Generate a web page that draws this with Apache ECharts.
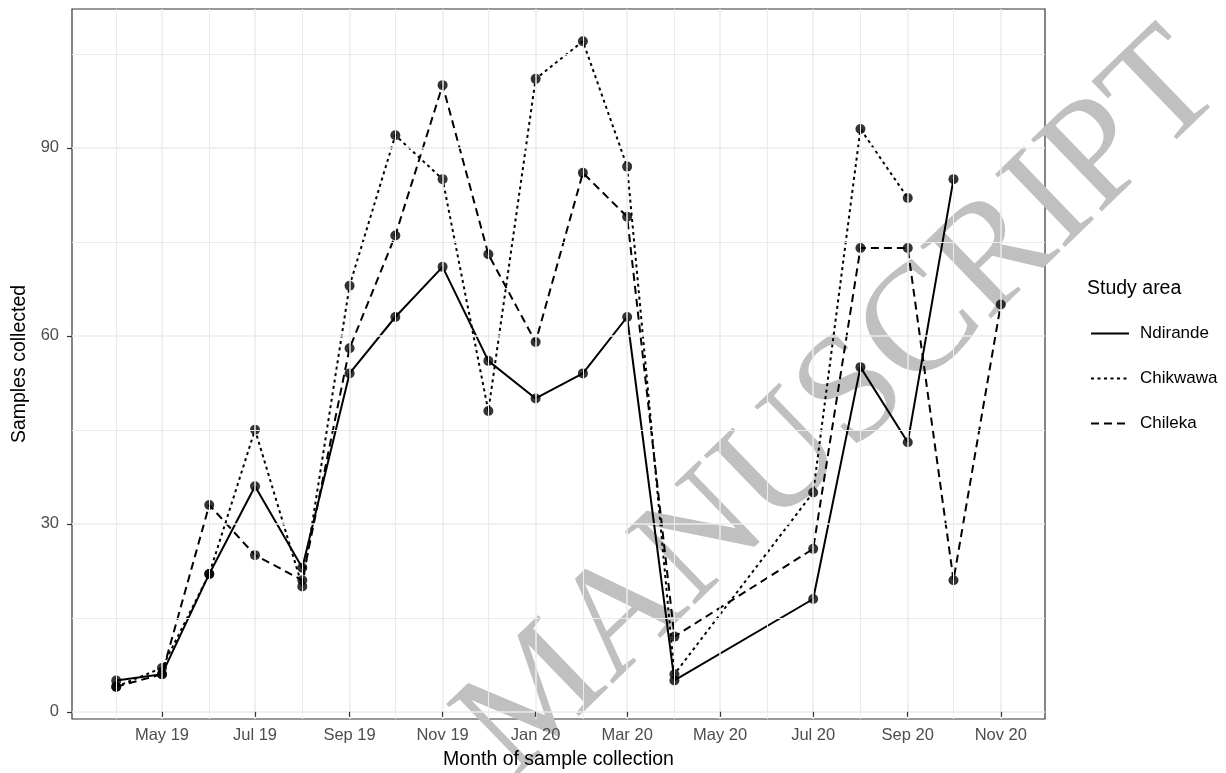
<!DOCTYPE html>
<html>
<head>
<meta charset="utf-8">
<script src="https://cdn.jsdelivr.net/npm/echarts@6/dist/echarts.min.js"></script>
<style>
html,body{margin:0;padding:0;background:#fff;}
#chart{width:1226px;height:773px;}
</style>
</head>
<body>
<div id="chart"></div>
<script>
// ---- data ----
const months = ['2019-04-01','2019-05-01','2019-06-01','2019-07-01','2019-08-01','2019-09-01',
  '2019-10-01','2019-11-01','2019-12-01','2020-01-01','2020-02-01','2020-03-01','2020-04-01',
  '2020-07-01','2020-08-01','2020-09-01','2020-10-01','2020-11-01'];
const ndirande = [5, 6, 22, 36, 23, 54, 63, 71, 56, 50, 54, 63, 5, 18, 55, 43, 85, null];
const chikwawa = [4, 7, 22, 45, 20, 68, 92, 85, 48, 101, 107, 87, 6, 35, 93, 82, null, null];
const chileka  = [4, 6, 33, 25, 21, 58, 76, 100, 73, 59, 86, 79, 12, 26, 74, 74, 21, 65];
const seriesNames = ['Ndirande', 'Chikwawa', 'Chileka'];

const xMajorDates = ['2019-05-01','2019-07-01','2019-09-01','2019-11-01','2020-01-01','2020-03-01',
  '2020-05-01','2020-07-01','2020-09-01','2020-11-01'];
const xMajorLabels = ['May 19','Jul 19','Sep 19','Nov 19','Jan 20','Mar 20','May 20','Jul 20','Sep 20','Nov 20'];
const xMinorDates = ['2019-04-01','2019-06-01','2019-08-01','2019-10-01','2019-12-01','2020-02-01',
  '2020-04-01','2020-06-01','2020-08-01','2020-10-01'];
const yMajor = [0, 30, 60, 90];
const yMinor = [15, 45, 75, 105];

// ---- helpers ----
const t = s => Date.parse(s);
const times = months.map(t);
const pairs = arr => arr.map((v, i) => [times[i], v]);
const allVals = ndirande.concat(chikwawa, chileka).filter(v => v != null);
const yLo = Math.min(...allVals), yHi = Math.max(...allVals);
const tLo = times[0], tHi = times[times.length - 1];
const xMin = tLo - 0.05 * (tHi - tLo), xMax = tHi + 0.05 * (tHi - tLo);
const yMin = yLo - 0.05 * (yHi - yLo), yMax = yHi + 0.05 * (yHi - yLo);
const majorTimes = xMajorDates.map(t);

const FONT = '"Liberation Sans", Arial, sans-serif';
const styles = {
  Ndirande: 'solid',
  Chikwawa: [3, 3.5],
  Chileka: [8, 5]
};
const dataMap = { Ndirande: ndirande, Chikwawa: chikwawa, Chileka: chileka };

const gridLine = (w) => ({ color: '#ebebeb', width: w, type: 'solid' });
const markData = []
  .concat(xMajorDates.map(d => ({ xAxis: t(d), lineStyle: gridLine(1.5) })))
  .concat(xMinorDates.map(d => ({ xAxis: t(d), lineStyle: gridLine(1.0) })))
  .concat(yMajor.map(v => ({ yAxis: v, lineStyle: gridLine(1.5) })))
  .concat(yMinor.map(v => ({ yAxis: v, lineStyle: gridLine(1.0) })));

const series = [{
  type: 'line', name: '__grid', data: [], z: 1, silent: true,
  markLine: { silent: true, symbol: ['none', 'none'], label: { show: false },
    animation: false, data: markData }
}];
seriesNames.forEach(n => {
  series.push({
    type: 'line', name: n, data: pairs(dataMap[n]), z: 3,
    symbol: 'none', showSymbol: false, connectNulls: false, animation: false,
    lineStyle: { color: '#000', width: 2, type: styles[n] },
    itemStyle: { color: '#000' }
  });
  series.push({
    type: 'scatter', name: n + ' points', data: pairs(dataMap[n]).filter(p => p[1] != null), z: 4,
    symbol: 'circle', symbolSize: 10, animation: false,
    itemStyle: { color: '#000' }
  });
});

const chart = echarts.init(document.getElementById('chart'), null, { renderer: 'canvas' });
chart.setOption({
  backgroundColor: '#ffffff',
  animation: false,
  textStyle: { fontFamily: FONT },
  grid: {
    left: 72, right: 181, top: 9, bottom: 54, containLabel: false, outerBoundsMode: 'none',
    show: true, backgroundColor: '#ffffff', borderColor: '#333333', borderWidth: 1.2
  },
  xAxis: {
    type: 'value', min: xMin, max: xMax, z: 5,
    name: 'Month of sample collection', nameLocation: 'middle', nameGap: 31,
    nameTextStyle: { fontFamily: FONT, fontSize: 19.5, color: '#000' },
    axisLine: { show: false },
    axisTick: { show: true, length: 5, customValues: majorTimes, lineStyle: { color: '#333', width: 1.2 } },
    axisLabel: {
      show: true, margin: 8, fontFamily: FONT, fontSize: 16.5, color: '#4d4d4d',
      customValues: majorTimes,
      formatter: v => { const i = majorTimes.indexOf(v); return i >= 0 ? xMajorLabels[i] : ''; }
    },
    splitLine: { show: false }, minorSplitLine: { show: false }
  },
  yAxis: {
    type: 'value', min: yMin, max: yMax,
    name: 'Samples collected', nameLocation: 'middle', nameGap: 33,
    nameTextStyle: { fontFamily: FONT, fontSize: 19.5, color: '#000' },
    axisLine: { show: false },
    axisTick: { show: true, length: 5, customValues: yMajor, lineStyle: { color: '#333', width: 1.2 } },
    axisLabel: { show: true, margin: 13, fontFamily: FONT, fontSize: 16.5, color: '#4d4d4d',
      customValues: yMajor },
    splitLine: { show: false }, minorSplitLine: { show: false }
  },
  legend: {
    data: seriesNames, orient: 'vertical', left: 1090, top: 322, padding: 0,
    itemWidth: 38, itemHeight: 20, itemGap: 22,
    itemStyle: { opacity: 0 },
    textStyle: { fontFamily: FONT, fontSize: 17, color: '#000', padding: [0, 0, 0, 6],
      lineHeight: 23 },
    selectedMode: false
  },
  graphic: [
    { type: 'text', left: 1087, top: 279, z: 10,
      style: { text: 'Study area', font: '19.5px "Liberation Sans", Arial, sans-serif', fill: '#000' } },
    { type: 'text', x: 842, y: 406, rotation: 44 * Math.PI / 180, z: 2, silent: true,
      style: { text: 'MANUSCRIPT', font: '154px "Liberation Serif", "Times New Roman", serif',
        fill: '#c0c0c0', align: 'center', verticalAlign: 'middle' } }
  ],
  series: series
});
</script>
</body>
</html>
